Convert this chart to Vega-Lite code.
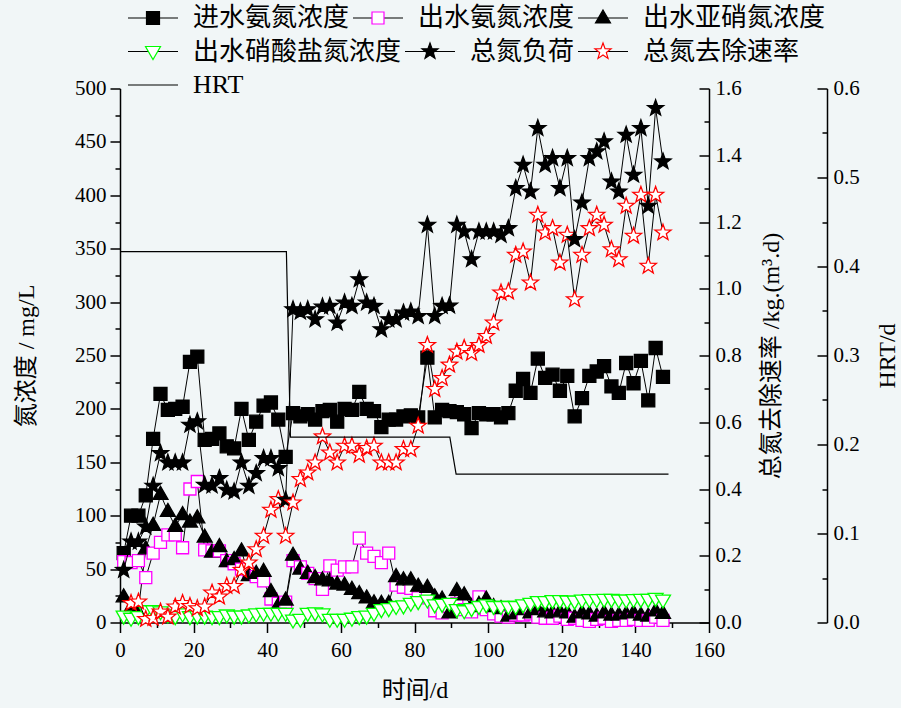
{
  "$schema": "https://vega.github.io/schema/vega-lite/v6.json",
  "width": 589,
  "height": 534,
  "autosize": "none",
  "padding": {"left": 120, "top": 88.5, "right": 192, "bottom": 85.5},
  "background": "#F1F6F7",
  "config": {
    "view": {"stroke": null},
    "legend": {
      "orient": "none", "legendX": 7, "direction": "horizontal", "title": null, "padding": 0,
      "columnPadding": 2, "rowPadding": 6, "clipHeight": 28,
      "symbolSize": 2500, "symbolStrokeWidth": 1.2, "symbolOpacity": 1,
      "labelFont": "Liberation Serif, Noto Sans CJK SC", "labelFontSize": 26, "labelOffset": 14,
      "labelLimit": 500, "labelColor": "#000000"
    },
    "axis": {
      "grid": false,
      "domainColor": "#000000",
      "domainWidth": 1.5,
      "tickColor": "#000000",
      "tickWidth": 1.5,
      "labelColor": "#000000",
      "labelFont": "Liberation Serif",
      "labelFontSize": 21,
      "labelFlush": false,
      "labelOverlap": false,
      "titleColor": "#000000",
      "titleFont": "Liberation Serif, Noto Sans CJK SC",
      "titleFontSize": 24,
      "titleFontWeight": "normal"
    }
  },
  "datasets": {
    "conc": [
      {"day": 1, "进水氨氮浓度": 65, "出水氨氮浓度": 57, "出水亚硝氮浓度": 24, "出水硝酸盐氮浓度": 6},
      {"day": 3, "进水氨氮浓度": 100, "出水氨氮浓度": 56, "出水亚硝氮浓度": 14, "出水硝酸盐氮浓度": 4},
      {"day": 5, "进水氨氮浓度": 100, "出水氨氮浓度": 58, "出水亚硝氮浓度": 12, "出水硝酸盐氮浓度": 5.5},
      {"day": 7, "进水氨氮浓度": 119, "出水氨氮浓度": 42, "出水亚硝氮浓度": 69, "出水硝酸盐氮浓度": 11},
      {"day": 9, "进水氨氮浓度": 172, "出水氨氮浓度": 65, "出水亚硝氮浓度": 91, "出水硝酸盐氮浓度": 11},
      {"day": 11, "进水氨氮浓度": 214, "出水氨氮浓度": 75, "出水亚硝氮浓度": 120, "出水硝酸盐氮浓度": 10},
      {"day": 13, "进水氨氮浓度": 199, "出水氨氮浓度": 82, "出水亚硝氮浓度": 104, "出水硝酸盐氮浓度": 7},
      {"day": 15, "进水氨氮浓度": 200, "出水氨氮浓度": 82, "出水亚硝氮浓度": 90, "出水硝酸盐氮浓度": 5.5},
      {"day": 17, "进水氨氮浓度": 202, "出水氨氮浓度": 70, "出水亚硝氮浓度": 101, "出水硝酸盐氮浓度": 8},
      {"day": 19, "进水氨氮浓度": 244, "出水氨氮浓度": 125, "出水亚硝氮浓度": 94, "出水硝酸盐氮浓度": 5.5},
      {"day": 21, "进水氨氮浓度": 249, "出水氨氮浓度": 132, "出水亚硝氮浓度": 98, "出水硝酸盐氮浓度": 6},
      {"day": 23, "进水氨氮浓度": 171, "出水氨氮浓度": 68, "出水亚硝氮浓度": 80, "出水硝酸盐氮浓度": 6},
      {"day": 25, "进水氨氮浓度": 172, "出水氨氮浓度": 67, "出水亚硝氮浓度": 66, "出水硝酸盐氮浓度": 5.5},
      {"day": 27, "进水氨氮浓度": 177, "出水氨氮浓度": 67, "出水亚硝氮浓度": 71, "出水硝酸盐氮浓度": 5.5},
      {"day": 29, "进水氨氮浓度": 165, "出水氨氮浓度": 58, "出水亚硝氮浓度": 57, "出水硝酸盐氮浓度": 7},
      {"day": 31, "进水氨氮浓度": 163, "出水氨氮浓度": 55, "出水亚硝氮浓度": 59, "出水硝酸盐氮浓度": 6},
      {"day": 33, "进水氨氮浓度": 200, "出水氨氮浓度": 50, "出水亚硝氮浓度": 67, "出水硝酸盐氮浓度": 6},
      {"day": 35, "进水氨氮浓度": 171, "出水氨氮浓度": 46, "出水亚硝氮浓度": 44, "出水硝酸盐氮浓度": 7},
      {"day": 37, "进水氨氮浓度": 188, "出水氨氮浓度": 43, "出水亚硝氮浓度": 46, "出水硝酸盐氮浓度": 8},
      {"day": 39, "进水氨氮浓度": 203, "出水氨氮浓度": 39, "出水亚硝氮浓度": 48, "出水硝酸盐氮浓度": 8.6},
      {"day": 41, "进水氨氮浓度": 206, "出水氨氮浓度": 22, "出水亚硝氮浓度": 29, "出水硝酸盐氮浓度": 8.6},
      {"day": 43, "进水氨氮浓度": 190, "出水氨氮浓度": 18, "出水亚硝氮浓度": 16, "出水硝酸盐氮浓度": 8.6},
      {"day": 45, "进水氨氮浓度": 155, "出水氨氮浓度": 19, "出水亚硝氮浓度": 21, "出水硝酸盐氮浓度": 8.6},
      {"day": 47, "进水氨氮浓度": 196, "出水氨氮浓度": 58, "出水亚硝氮浓度": 63, "出水硝酸盐氮浓度": 2.3},
      {"day": 49, "进水氨氮浓度": 193, "出水氨氮浓度": 52, "出水亚硝氮浓度": 50, "出水硝酸盐氮浓度": 3},
      {"day": 51, "进水氨氮浓度": 195, "出水氨氮浓度": 46, "出水亚硝氮浓度": 46, "出水硝酸盐氮浓度": 8.6},
      {"day": 53, "进水氨氮浓度": 190, "出水氨氮浓度": 41, "出水亚硝氮浓度": 42, "出水硝酸盐氮浓度": 9},
      {"day": 55, "进水氨氮浓度": 198, "出水氨氮浓度": 31, "出水亚硝氮浓度": 40, "出水硝酸盐氮浓度": 8},
      {"day": 57, "进水氨氮浓度": 199, "出水氨氮浓度": 53, "出水亚硝氮浓度": 39, "出水硝酸盐氮浓度": 3},
      {"day": 59, "进水氨氮浓度": 188, "出水氨氮浓度": 49, "出水亚硝氮浓度": 36, "出水硝酸盐氮浓度": 3},
      {"day": 61, "进水氨氮浓度": 200, "出水氨氮浓度": 52, "出水亚硝氮浓度": 35, "出水硝酸盐氮浓度": 3},
      {"day": 63, "进水氨氮浓度": 199, "出水氨氮浓度": 52, "出水亚硝氮浓度": 31, "出水硝酸盐氮浓度": 4},
      {"day": 65, "进水氨氮浓度": 216, "出水氨氮浓度": 79, "出水亚硝氮浓度": 27, "出水硝酸盐氮浓度": 5.5},
      {"day": 67, "进水氨氮浓度": 200, "出水氨氮浓度": 65, "出水亚硝氮浓度": 23, "出水硝酸盐氮浓度": 6},
      {"day": 69, "进水氨氮浓度": 198, "出水氨氮浓度": 62, "出水亚硝氮浓度": 18.5, "出水硝酸盐氮浓度": 8.6},
      {"day": 71, "进水氨氮浓度": 183, "出水氨氮浓度": 56, "出水亚硝氮浓度": 18, "出水硝酸盐氮浓度": 12},
      {"day": 73, "进水氨氮浓度": 190, "出水氨氮浓度": 65, "出水亚硝氮浓度": 18, "出水硝酸盐氮浓度": 13},
      {"day": 75, "进水氨氮浓度": 190, "出水氨氮浓度": 35, "出水亚硝氮浓度": 43, "出水硝酸盐氮浓度": 15},
      {"day": 77, "进水氨氮浓度": 193, "出水氨氮浓度": 33, "出水亚硝氮浓度": 40, "出水硝酸盐氮浓度": 15.6},
      {"day": 79, "进水氨氮浓度": 194, "出水氨氮浓度": 32, "出水亚硝氮浓度": 40, "出水硝酸盐氮浓度": 18},
      {"day": 81, "进水氨氮浓度": 192, "出水氨氮浓度": 23, "出水亚硝氮浓度": 34, "出水硝酸盐氮浓度": 19.5},
      {"day": 83.5, "进水氨氮浓度": 248, "出水氨氮浓度": 25, "出水亚硝氮浓度": 33, "出水硝酸盐氮浓度": 21},
      {"day": 85.5, "进水氨氮浓度": 192, "出水氨氮浓度": 11, "出水亚硝氮浓度": 24, "出水硝酸盐氮浓度": 16.5},
      {"day": 87.5, "进水氨氮浓度": 199, "出水氨氮浓度": 9, "出水亚硝氮浓度": 22, "出水硝酸盐氮浓度": 17},
      {"day": 89.5, "进水氨氮浓度": 198, "出水氨氮浓度": 15, "出水亚硝氮浓度": 9, "出水硝酸盐氮浓度": 18},
      {"day": 91.5, "进水氨氮浓度": 197, "出水氨氮浓度": 18, "出水亚硝氮浓度": 30, "出水硝酸盐氮浓度": 12},
      {"day": 93.5, "进水氨氮浓度": 195, "出水氨氮浓度": 12, "出水亚硝氮浓度": 26, "出水硝酸盐氮浓度": 11},
      {"day": 95.5, "进水氨氮浓度": 182, "出水氨氮浓度": 10, "出水亚硝氮浓度": 15, "出水硝酸盐氮浓度": 13},
      {"day": 97.5, "进水氨氮浓度": 196, "出水氨氮浓度": 24, "出水亚硝氮浓度": 17, "出水硝酸盐氮浓度": 15},
      {"day": 99.5, "进水氨氮浓度": 195, "出水氨氮浓度": 12, "出水亚硝氮浓度": 22, "出水硝酸盐氮浓度": 16.5},
      {"day": 101.5, "进水氨氮浓度": 195, "出水氨氮浓度": 8, "出水亚硝氮浓度": 15, "出水硝酸盐氮浓度": 15},
      {"day": 103.5, "进水氨氮浓度": 192, "出水氨氮浓度": 6, "出水亚硝氮浓度": 13, "出水硝酸盐氮浓度": 15},
      {"day": 105.5, "进水氨氮浓度": 196, "出水氨氮浓度": 5, "出水亚硝氮浓度": 6, "出水硝酸盐氮浓度": 15},
      {"day": 107.5, "进水氨氮浓度": 217, "出水氨氮浓度": 7, "出水亚硝氮浓度": 8, "出水硝酸盐氮浓度": 15},
      {"day": 109.5, "进水氨氮浓度": 228, "出水氨氮浓度": 7, "出水亚硝氮浓度": 12, "出水硝酸盐氮浓度": 16.5},
      {"day": 111.5, "进水氨氮浓度": 215, "出水氨氮浓度": 8, "出水亚硝氮浓度": 9, "出水硝酸盐氮浓度": 18},
      {"day": 113.5, "进水氨氮浓度": 247, "出水氨氮浓度": 5, "出水亚硝氮浓度": 12, "出水硝酸盐氮浓度": 19.5},
      {"day": 115.5, "进水氨氮浓度": 229, "出水氨氮浓度": 4, "出水亚硝氮浓度": 10, "出水硝酸盐氮浓度": 19.5},
      {"day": 117.5, "进水氨氮浓度": 232, "出水氨氮浓度": 4, "出水亚硝氮浓度": 9, "出水硝酸盐氮浓度": 20.5},
      {"day": 119.5, "进水氨氮浓度": 217, "出水氨氮浓度": 6, "出水亚硝氮浓度": 10, "出水硝酸盐氮浓度": 20.5},
      {"day": 121.5, "进水氨氮浓度": 231, "出水氨氮浓度": 3, "出水亚硝氮浓度": 9, "出水硝酸盐氮浓度": 20},
      {"day": 123.5, "进水氨氮浓度": 193, "出水氨氮浓度": 4, "出水亚硝氮浓度": 5, "出水硝酸盐氮浓度": 20},
      {"day": 125.5, "进水氨氮浓度": 210, "出水氨氮浓度": 2, "出水亚硝氮浓度": 9, "出水硝酸盐氮浓度": 21},
      {"day": 127.5, "进水氨氮浓度": 231, "出水氨氮浓度": 1, "出水亚硝氮浓度": 8, "出水硝酸盐氮浓度": 21.5},
      {"day": 129.5, "进水氨氮浓度": 235, "出水氨氮浓度": 3, "出水亚硝氮浓度": 6, "出水硝酸盐氮浓度": 21.5},
      {"day": 131.5, "进水氨氮浓度": 240, "出水氨氮浓度": 4, "出水亚硝氮浓度": 9, "出水硝酸盐氮浓度": 21.7},
      {"day": 133.5, "进水氨氮浓度": 221, "出水氨氮浓度": 1, "出水亚硝氮浓度": 7, "出水硝酸盐氮浓度": 21.7},
      {"day": 135.5, "进水氨氮浓度": 215, "出水氨氮浓度": 2, "出水亚硝氮浓度": 7, "出水硝酸盐氮浓度": 21},
      {"day": 137.5, "进水氨氮浓度": 243, "出水氨氮浓度": 2, "出水亚硝氮浓度": 8, "出水硝酸盐氮浓度": 21},
      {"day": 139.5, "进水氨氮浓度": 224, "出水氨氮浓度": 3, "出水亚硝氮浓度": 9, "出水硝酸盐氮浓度": 21.5},
      {"day": 141.5, "进水氨氮浓度": 245, "出水氨氮浓度": 2, "出水亚硝氮浓度": 7, "出水硝酸盐氮浓度": 21.7},
      {"day": 143.5, "进水氨氮浓度": 208, "出水氨氮浓度": 2, "出水亚硝氮浓度": 6, "出水硝酸盐氮浓度": 21.7},
      {"day": 145.5, "进水氨氮浓度": 257, "出水氨氮浓度": 5, "出水亚硝氮浓度": 11, "出水硝酸盐氮浓度": 22.6},
      {"day": 147.5, "进水氨氮浓度": 230, "出水氨氮浓度": 2, "出水亚硝氮浓度": 8.6, "出水硝酸盐氮浓度": 21}
    ],
    "rate": [
      {"day": 1, "总氮负荷": 0.157, "总氮去除速率": null},
      {"day": 3, "总氮负荷": 0.242, "总氮去除速率": 0.058},
      {"day": 5, "总氮负荷": 0.242, "总氮去除速率": 0.062},
      {"day": 7, "总氮负荷": 0.287, "总氮去除速率": 0.010},
      {"day": 9, "总氮负荷": 0.409, "总氮去除速率": 0.013},
      {"day": 11, "总氮负荷": 0.507, "总氮去除速率": 0.032},
      {"day": 13, "总氮负荷": 0.479, "总氮去除速率": 0.017},
      {"day": 15, "总氮负荷": 0.479, "总氮去除速率": 0.047},
      {"day": 17, "总氮负荷": 0.479, "总氮去除速率": 0.058},
      {"day": 19, "总氮负荷": 0.592, "总氮去除速率": 0.049},
      {"day": 21, "总氮负荷": 0.602, "总氮去除速率": 0.042},
      {"day": 23, "总氮负荷": 0.412, "总氮去除速率": 0.047},
      {"day": 25, "总氮负荷": 0.410, "总氮去除速率": 0.089},
      {"day": 27, "总氮负荷": 0.432, "总氮去除速率": 0.077},
      {"day": 29, "总氮负荷": 0.397, "总氮去除速率": 0.109},
      {"day": 31, "总氮负荷": 0.392, "总氮去除速率": 0.109},
      {"day": 33, "总氮负荷": 0.479, "总氮去除速率": 0.157},
      {"day": 35, "总氮负荷": 0.409, "总氮去除速率": 0.179},
      {"day": 37, "总氮负荷": 0.447, "总氮去除速率": 0.219},
      {"day": 39, "总氮负荷": 0.492, "总氮去除速率": 0.259},
      {"day": 41, "总氮负荷": 0.492, "总氮去除速率": 0.337},
      {"day": 43, "总氮负荷": 0.462, "总氮去除速率": 0.369},
      {"day": 45, "总氮负荷": 0.367, "总氮去除速率": 0.259},
      {"day": 47, "总氮负荷": 0.938, "总氮去除速率": 0.359},
      {"day": 49, "总氮负荷": 0.931, "总氮去除速率": 0.429},
      {"day": 51, "总氮负荷": 0.938, "总氮去除速率": 0.449},
      {"day": 53, "总氮负荷": 0.908, "总氮去除速率": 0.479},
      {"day": 55, "总氮负荷": 0.946, "总氮去除速率": 0.557},
      {"day": 57, "总氮负荷": 0.948, "总氮去除速率": 0.509},
      {"day": 59, "总氮负荷": 0.898, "总氮去除速率": 0.479},
      {"day": 61, "总氮负荷": 0.958, "总氮去除速率": 0.529},
      {"day": 63, "总氮负荷": 0.948, "总氮去除速率": 0.529},
      {"day": 65, "总氮负荷": 1.028, "总氮去除速率": 0.502},
      {"day": 67, "总氮负荷": 0.958, "总氮去除速率": 0.522},
      {"day": 69, "总氮负荷": 0.948, "总氮去除速率": 0.529},
      {"day": 71, "总氮负荷": 0.878, "总氮去除速率": 0.479},
      {"day": 73, "总氮负荷": 0.908, "总氮去除速率": 0.479},
      {"day": 75, "总氮负荷": 0.908, "总氮去除速率": 0.479},
      {"day": 77, "总氮负荷": 0.928, "总氮去除速率": 0.519},
      {"day": 79, "总氮负荷": 0.931, "总氮去除速率": 0.519},
      {"day": 81, "总氮负荷": 0.918, "总氮去除速率": 0.589},
      {"day": 83.5, "总氮负荷": 1.191, "总氮去除速率": 0.831},
      {"day": 85.5, "总氮负荷": 0.918, "总氮去除速率": 0.699},
      {"day": 87.5, "总氮负荷": 0.948, "总氮去除速率": 0.732},
      {"day": 89.5, "总氮负荷": 0.949, "总氮去除速率": 0.772},
      {"day": 91.5, "总氮负荷": 1.191, "总氮去除速率": 0.811},
      {"day": 93.5, "总氮负荷": 1.171, "总氮去除速率": 0.822},
      {"day": 95.5, "总氮负荷": 1.088, "总氮去除速率": 0.807},
      {"day": 97.5, "总氮负荷": 1.171, "总氮去除速率": 0.831},
      {"day": 99.5, "总氮负荷": 1.171, "总氮去除速率": 0.858},
      {"day": 101.5, "总氮负荷": 1.171, "总氮去除速率": 0.898},
      {"day": 103.5, "总氮负荷": 1.161, "总氮去除速率": 0.988},
      {"day": 105.5, "总氮负荷": 1.181, "总氮去除速率": 0.991},
      {"day": 107.5, "总氮负荷": 1.301, "总氮去除速率": 1.101},
      {"day": 109.5, "总氮负荷": 1.371, "总氮去除速率": 1.111},
      {"day": 111.5, "总氮负荷": 1.291, "总氮去除速率": 1.018},
      {"day": 113.5, "总氮负荷": 1.481, "总氮去除速率": 1.221},
      {"day": 115.5, "总氮负荷": 1.371, "总氮去除速率": 1.168},
      {"day": 117.5, "总氮负荷": 1.391, "总氮去除速率": 1.181},
      {"day": 119.5, "总氮负荷": 1.301, "总氮去除速率": 1.078},
      {"day": 121.5, "总氮负荷": 1.391, "总氮去除速率": 1.161},
      {"day": 123.5, "总氮负荷": 1.148, "总氮去除速率": 0.968},
      {"day": 125.5, "总氮负荷": 1.258, "总氮去除速率": 1.101},
      {"day": 127.5, "总氮负荷": 1.391, "总氮去除速率": 1.181},
      {"day": 129.5, "总氮负荷": 1.411, "总氮去除速率": 1.221},
      {"day": 131.5, "总氮负荷": 1.441, "总氮去除速率": 1.191},
      {"day": 133.5, "总氮负荷": 1.321, "总氮去除速率": 1.118},
      {"day": 135.5, "总氮负荷": 1.291, "总氮去除速率": 1.088},
      {"day": 137.5, "总氮负荷": 1.461, "总氮去除速率": 1.248},
      {"day": 139.5, "总氮负荷": 1.341, "总氮去除速率": 1.158},
      {"day": 141.5, "总氮负荷": 1.481, "总氮去除速率": 1.281},
      {"day": 143.5, "总氮负荷": 1.248, "总氮去除速率": 1.068},
      {"day": 145.5, "总氮负荷": 1.541, "总氮去除速率": 1.281},
      {"day": 147.5, "总氮负荷": 1.381, "总氮去除速率": 1.168}
    ],
    "hrt": [
      {"day": 0, "series": "HRT", "hrt": 0.4167},
      {"day": 45.2, "series": "HRT", "hrt": 0.4167},
      {"day": 46.3, "series": "HRT", "hrt": 0.2083},
      {"day": 89.6, "series": "HRT", "hrt": 0.2083},
      {"day": 91.3, "series": "HRT", "hrt": 0.1667},
      {"day": 149, "series": "HRT", "hrt": 0.1667}
    ]
  },
  "layer": [
    {
      "data": {"name": "conc"},
      "transform": [
        {"fold": ["进水氨氮浓度", "出水氨氮浓度", "出水亚硝氮浓度", "出水硝酸盐氮浓度"], "as": ["series", "value"]},
        {"filter": {"field": "series", "oneOf": ["进水氨氮浓度", "出水氨氮浓度", "出水亚硝氮浓度"]}}
      ],
      "layer": [
        {
          "mark": {"type": "line", "strokeWidth": 1},
          "encoding": {
            "x": {
              "field": "day", "type": "quantitative",
              "scale": {"domain": [0, 160], "nice": false},
              "axis": {"orient": "bottom", "values": [0, 20, 40, 60, 80, 100, 120, 140, 160], "tickSize": 10, "labelPadding": 7, "title": "时间/d", "titlePadding": 18}
            },
            "y": {
              "field": "value", "type": "quantitative",
              "scale": {"domain": [0, 500], "nice": false},
              "axis": {"orient": "left", "values": [0, 50, 100, 150, 200, 250, 300, 350, 400, 450, 500], "tickSize": 10, "labelPadding": 4, "title": "氮浓度 / mg/L", "titlePadding": 36}
            },
            "stroke": {
              "field": "series", "type": "nominal",
              "sort": ["进水氨氮浓度", "出水氨氮浓度", "出水亚硝氮浓度"],
              "scale": {"range": ["#000000"]},
              "legend": {"legendY": -84.5, "columns": 3, "symbolType": "stroke", "symbolStrokeColor": "#000000", "labelOpacity": 0}
            }
          }
        },
        {
          "mark": {"type": "point", "size": 2500, "strokeWidth": 1.3, "filled": false, "opacity": 1},
          "encoding": {
            "x": {
              "field": "day", "type": "quantitative",
              "axis": {"orient": "bottom", "values": [10, 30, 50, 70, 90, 110, 130, 150], "tickSize": 5, "labels": false, "domain": false, "title": null}
            },
            "y": {
              "field": "value", "type": "quantitative",
              "axis": {"orient": "left", "values": [25, 75, 125, 175, 225, 275, 325, 375, 425, 475], "tickSize": 5, "labels": false, "domain": false, "title": null}
            },
            "shape": {
              "field": "series", "type": "nominal",
              "scale": {
                "domain": ["进水氨氮浓度", "出水氨氮浓度", "出水亚硝氮浓度"],
                "range": [
                  "M-0.26,-0.26H0.26V0.26H-0.26Z",
                  "M-0.24,-0.24H0.24V0.24H-0.24Z",
                  "M0,-0.32L0.3,0.2L-0.3,0.2Z"
                ]
              },
              "legend": {"legendY": -84.5, "columns": 3}
            },
            "color": {
              "field": "series", "type": "nominal",
              "scale": {"domain": ["进水氨氮浓度", "出水氨氮浓度", "出水亚硝氮浓度"], "range": ["#000000", "#FF00FF", "#000000"]},
              "legend": {"legendY": -84.5, "columns": 3}
            },
            "fill": {
              "field": "series", "type": "nominal",
              "scale": {"domain": ["进水氨氮浓度", "出水氨氮浓度", "出水亚硝氮浓度"], "range": ["#000000", "#FFFFFF", "#000000"]},
              "legend": {"legendY": -84.5, "columns": 3}
            }
          }
        }
      ],
      "resolve": {"axis": {"x": "independent", "y": "independent"}}
    },
    {
      "layer": [
        {
          "data": {"name": "conc"},
          "transform": [
            {"fold": ["出水硝酸盐氮浓度"], "as": ["series", "value"]}
          ],
          "layer": [
            {
              "mark": {"type": "line", "strokeWidth": 1},
              "encoding": {
                "x": {"field": "day", "type": "quantitative", "axis": null},
                "y": {"field": "value", "type": "quantitative", "scale": {"domain": [0, 500], "nice": false}, "axis": null},
                "stroke": {
                  "field": "series", "type": "nominal",
                  "sort": ["出水硝酸盐氮浓度", "总氮负荷", "总氮去除速率"],
                  "scale": {"range": ["#000000"]},
                  "legend": {"legendY": -51, "columns": 3, "symbolType": "stroke", "symbolStrokeColor": "#000000", "labelOpacity": 0}
                }
              }
            },
            {
              "mark": {"type": "point", "size": 2500, "strokeWidth": 1.3, "filled": false, "opacity": 1},
              "encoding": {
                "x": {"field": "day", "type": "quantitative", "axis": null},
                "y": {"field": "value", "type": "quantitative", "axis": null},
                "shape": {
                  "field": "series", "type": "nominal",
                  "scale": {
                    "domain": ["出水硝酸盐氮浓度", "总氮负荷", "总氮去除速率"],
                    "range": [
                      "M-0.3,-0.2L0.3,-0.2L0,0.32Z",
                      "M0,-0.34L0.0823,-0.1133L0.3234,-0.1051L0.1331,0.0433L0.1998,0.2751L0,0.14L-0.1998,0.2751L-0.1331,0.0433L-0.3234,-0.1051L-0.0823,-0.1133Z",
                      "M0,-0.34L0.0823,-0.1133L0.3234,-0.1051L0.1331,0.0433L0.1998,0.2751L0,0.14L-0.1998,0.2751L-0.1331,0.0433L-0.3234,-0.1051L-0.0823,-0.1133Z"
                    ]
                  },
                  "legend": {"legendY": -51, "columns": 3}
                },
                "color": {
                  "field": "series", "type": "nominal",
                  "scale": {"domain": ["出水硝酸盐氮浓度", "总氮负荷", "总氮去除速率"], "range": ["#00FF00", "#000000", "#FF0000"]},
                  "legend": {"legendY": -51, "columns": 3}
                },
                "fill": {
                  "field": "series", "type": "nominal",
                  "scale": {"domain": ["出水硝酸盐氮浓度", "总氮负荷", "总氮去除速率"], "range": ["#FFFFFF", "#000000", "#FFFFFF"]},
                  "legend": {"legendY": -51, "columns": 3}
                }
              }
            }
          ]
        },
        {
          "data": {"name": "rate"},
          "transform": [
            {"fold": ["总氮负荷", "总氮去除速率"], "as": ["series", "value"]}
          ],
          "layer": [
            {
              "mark": {"type": "line", "strokeWidth": 1},
              "encoding": {
                "x": {"field": "day", "type": "quantitative", "axis": null},
                "y": {
                  "field": "value", "type": "quantitative",
                  "scale": {"domain": [0, 1.6], "nice": false},
                  "axis": {"orient": "right", "values": [0, 0.2, 0.4, 0.6, 0.8, 1, 1.2, 1.4, 1.6], "format": ".1f", "tickSize": -10, "labelPadding": 16, "title": "总氮去除速率 /kg.(m³.d)", "titleAngle": 270, "titleBaseline": "top", "titlePadding": 18}
                },
                "stroke": {
                  "field": "series", "type": "nominal",
                  "sort": ["出水硝酸盐氮浓度", "总氮负荷", "总氮去除速率"],
                  "scale": {"range": ["#000000"]}
                }
              }
            },
            {
              "mark": {"type": "point", "size": 2500, "strokeWidth": 1.3, "filled": false, "opacity": 1},
              "encoding": {
                "x": {"field": "day", "type": "quantitative", "axis": null},
                "y": {
                  "field": "value", "type": "quantitative",
                  "axis": {"orient": "right", "values": [0.1, 0.3, 0.5, 0.7, 0.9, 1.1, 1.3, 1.5], "tickSize": -5, "labels": false, "domain": false, "title": null}
                },
                "shape": {"field": "series", "type": "nominal"},
                "color": {"field": "series", "type": "nominal"},
                "fill": {"field": "series", "type": "nominal"}
              }
            }
          ],
          "resolve": {"axis": {"y": "independent"}}
        }
      ],
      "resolve": {"scale": {"y": "independent"}, "axis": {"y": "independent"}}
    },
    {
      "data": {"name": "hrt"},
      "layer": [
        {
          "mark": {"type": "line", "strokeWidth": 1.2},
          "encoding": {
            "x": {"field": "day", "type": "quantitative", "axis": null},
            "y": {
              "field": "hrt", "type": "quantitative",
              "scale": {"domain": [0, 0.6], "nice": false},
              "axis": {"orient": "right", "offset": 118, "values": [0, 0.1, 0.2, 0.3, 0.4, 0.5, 0.6], "format": ".1f", "tickSize": -10, "labelPadding": 16, "title": "HRT/d", "titleAngle": 270, "titleBaseline": "top", "titlePadding": 16}
            },
            "stroke": {
              "field": "series", "type": "nominal",
              "scale": {"range": ["#000000"]},
              "legend": {"legendY": -17.5, "columns": 1, "symbolType": "stroke", "symbolStrokeColor": "#000000"}
            }
          }
        },
        {
          "mark": {"type": "point", "opacity": 0},
          "encoding": {
            "x": {"field": "day", "type": "quantitative", "axis": null},
            "y": {
              "field": "hrt", "type": "quantitative",
              "axis": {"orient": "right", "offset": 118, "values": [0.05, 0.15, 0.25, 0.35, 0.45, 0.55], "tickSize": -5, "labels": false, "domain": false, "title": null}
            }
          }
        }
      ],
      "resolve": {"axis": {"y": "independent"}}
    }
  ],
  "resolve": {
    "scale": {"y": "independent", "stroke": "independent", "shape": "independent", "color": "independent", "fill": "independent"},
    "axis": {"x": "independent", "y": "independent"}
  }
}
